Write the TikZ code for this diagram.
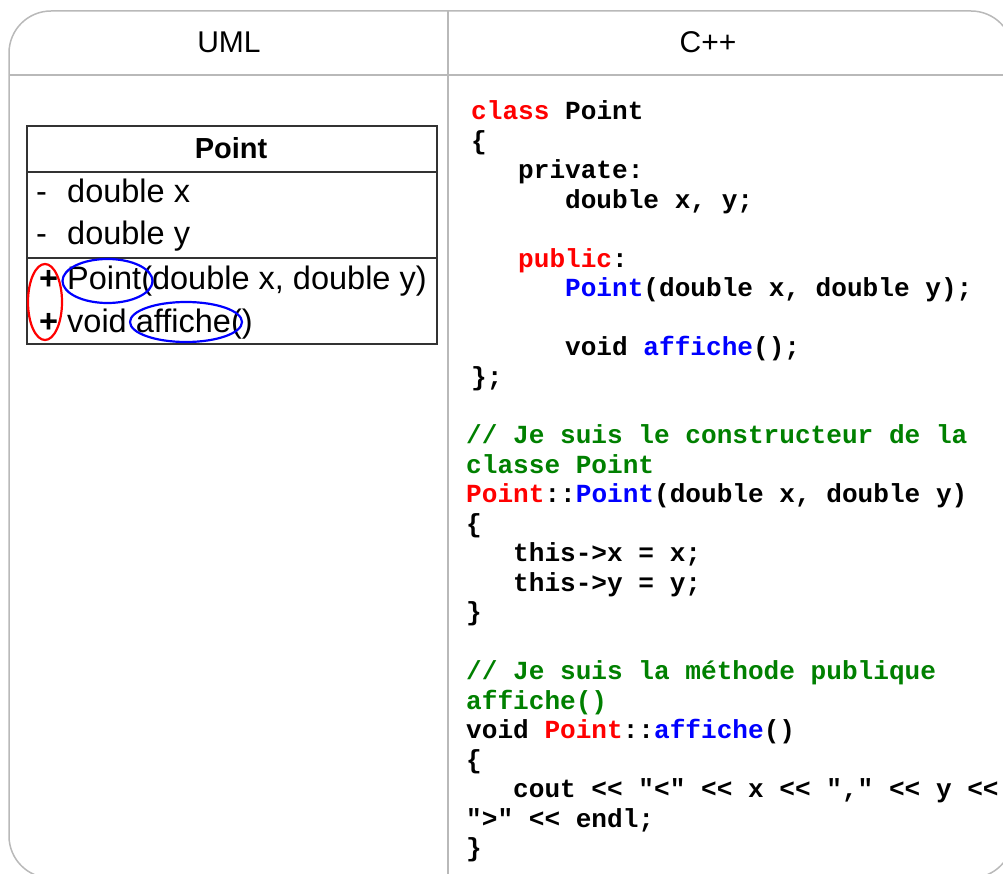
\documentclass[tikz,border=0pt]{standalone}
\usepackage{fontspec}
\setmainfont{Liberation Sans}
\setmonofont{Liberation Mono}
\usepackage{tikz}

\definecolor{kwred}{RGB}{255,0,0}
\definecolor{fnblue}{RGB}{0,0,255}
\definecolor{cmtgreen}{RGB}{0,128,0}
\definecolor{framegray}{RGB}{185,185,185}

% code highlighting
\def\KW#1{\textcolor{kwred}{#1}}
\def\FN#1{\textcolor{fnblue}{#1}}
\def\CM#1{\textcolor{cmtgreen}{#1}}
\def\TB#1 {\hspace*{#1\dimexpr.6em\relax}}

\tikzset{
  frame/.style={draw=framegray,line width=1.5},
  umlline/.style={draw=black!80,line width=1.8},
  head/.style={font=\fontsize{30}{34}\selectfont},
  title/.style={anchor=base,inner sep=0,font=\fontsize{29}{34}\selectfont\bfseries},
  member/.style={anchor=base west,inner sep=0,font=\fontsize{32.5}{36}\selectfont},
  code/.style={anchor=base west,inner sep=0,align=left,
    font=\fontsize{26.1}{29.5}\selectfont\ttfamily\bfseries},
  hl/.style={line width=2.2}
}

\begin{document}
\begin{tikzpicture}[x=1pt,y=-1pt]
  \useasboundingbox (0,0) rectangle (1003,874);
  % table
  \draw[frame,rounded corners=42] (9,11) rectangle (1013,878);
  \draw[frame] (9,75) -- (1013,75);
  \draw[frame] (448,11) -- (448,878);
  \node[head] (umlhead) at (229,42.5) {UML};
  \node[head] (cpphead) at (708,42.5) {C++};

  % class box
  \draw[umlline] (27,126) rectangle (437,344);
  \draw[umlline] (27,172) -- (437,172);
  \draw[umlline] (27,258) -- (437,258);
  \node[title] (cls) at (231,159) {Point};
  \foreach \y/\t [count=\i] in {203/double x,245/double y} {
    \node[member] (priv\i) at (36,\y) {-};
    \node[member] (attr\i) at (67,\y) {\t};
  }
  \node[member] (pub1) at (39,290) {\bfseries+};
  \node[member] (ctor) at (67,290) {Point(double x, double y)};
  \node[member] (pub2) at (39,332) {\bfseries+};
  \node[member] (meth) at (67,332) {void affiche()};
  \draw[hl,red] (45,302) ellipse [x radius=17,y radius=38];
  \draw[hl,blue] (107.5,281) ellipse [x radius=45,y radius=22];
  \draw[hl,blue] (186,322) ellipse [x radius=56,y radius=20];

  % C++ code (node base = last line)
  \node[code] (decl) at (471,385) {
    \KW{class} Point\\
    \{\\
    \TB3 private:\\
    \TB6 double x, y;\\[29.5pt]
    \TB3 \KW{public}:\\
    \TB6 \FN{Point}(double x, double y);\\[29.5pt]
    \TB6 void \FN{affiche}();\\
    \};};
  \node[code] (defctor) at (466,620.5) {
    \CM{// Je suis le constructeur de la}\\
    \CM{classe Point}\\
    \KW{Point}::\FN{Point}(double x, double y)\\
    \{\\
    \TB3 this->x = x;\\
    \TB3 this->y = y;\\
    \}};
  \node[code] (defshow) at (466,856.5) {
    \CM{// Je suis la méthode publique}\\
    \CM{affiche()}\\
    void \KW{Point}::\FN{affiche}()\\
    \{\\
    \TB3 cout << "<" << x << "," << y <<\\
    ">" << endl;\\
    \}};
\end{tikzpicture}
\end{document}
